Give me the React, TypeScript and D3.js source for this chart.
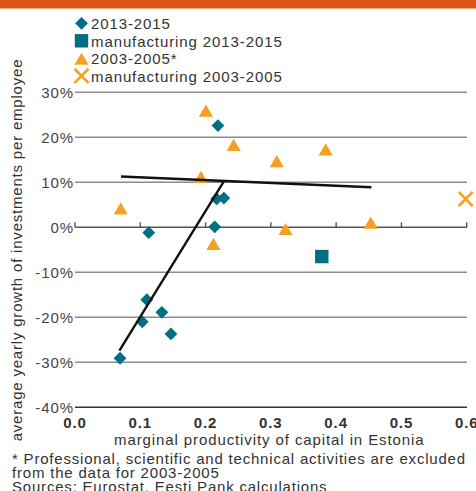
import React from 'react';
import * as d3 from 'd3';

// 2013-2015, by sector
const recentX = [0.219, 0.217, 0.228, 0.214, 0.113, 0.11, 0.103, 0.133, 0.147, 0.069];
const recentY = [22.6, 6.3, 6.5, 0.1, -1.2, -16.1, -21.0, -18.9, -23.7, -29.1];
// manufacturing 2013-2015
const mfgRecentX = [0.378];
const mfgRecentY = [-6.5];
// 2003-2005, by sector
const earlyX = [0.2005, 0.243, 0.193, 0.07, 0.212, 0.309, 0.384, 0.3225, 0.453];
const earlyY = [25.8, 18.2, 11.1, 4.1, -3.8, 14.6, 17.2, -0.5, 0.9];
// manufacturing 2003-2005
const mfgEarlyX = [0.5985];
const mfgEarlyY = [6.3];
// trend lines
const earlyTrendX = [0.0704, 0.454];
const earlyTrendY = [11.3, 8.9];
const recentTrendX = [0.068, 0.228];
const recentTrendY = [-27.4, 10.2];

const xTicks = [0, 0.1, 0.2, 0.3, 0.4, 0.5, 0.6];
const yTicks = [30, 20, 10, 0, -10, -20, -30, -40];
const legendLabels = ['2013-2015', 'manufacturing 2013-2015', '2003-2005*', 'manufacturing 2003-2005'];
const footnotes = [
  '* Professional, scientific and technical activities are excluded',
  'from the data for 2003-2005',
  'Sources: Eurostat, Eesti Pank calculations',
];

const TEAL = '#006f86';
const ORANGE = '#f5a01e';
const FONT = '"Liberation Sans", Arial, Helvetica, sans-serif';

export default function App() {
  const width = 476;
  const height = 491;

  const x = d3.scaleLinear().domain([0, 0.6]).range([75, 466.7]);
  const y = d3.scaleLinear().domain([-40, 30]).range([407.3, 92.3]);

  const diamond = d3.symbol().type(d3.symbolDiamond2).size(104)();
  const square = d3.symbol().type(d3.symbolSquare).size(180)();
  const triangle = d3.symbol().type(d3.symbolTriangle).size(86)();
  const cross = d3.symbol().type(d3.symbolX).size(130)();

  const line = d3.line<number>();
  const earlyTrend = line(earlyTrendX.map((v, i) => [x(v), y(earlyTrendY[i])] as any));
  const recentTrend = line(recentTrendX.map((v, i) => [x(v), y(recentTrendY[i])] as any));

  const legendMarks = [
    <path d={diamond} fill={TEAL} />,
    <path d={square} fill={TEAL} />,
    <path d={triangle} fill={ORANGE} />,
    <path d={cross} fill="none" stroke={ORANGE} strokeWidth={2.6} />,
  ];

  return (
    <svg
      width={width}
      height={height}
      style={{ position: 'absolute', left: 0, top: 0, fontFamily: FONT }}
    >
      <rect x={0} y={0} width={width} height={8.5} fill="#dd5419" />

      {/* legend */}
      {legendLabels.map((lab, i) => (
        <g key={lab} transform={`translate(0,${i * 17.5})`}>
          <g transform={`translate(81.5,${i === 2 ? 25.8 : 23.3})`}>{legendMarks[i]}</g>
          <text x={91} y={29.3} fontSize={15} letterSpacing={0.9} fill="#333">{lab}</text>
        </g>
      ))}

      {/* grid */}
      {yTicks.map((t) => (
        <g key={t}>
          <line
            x1={75}
            x2={467}
            y1={y(t)}
            y2={y(t)}
            stroke={t === 0 ? '#555' : t === -40 ? '#333' : '#8c8c8c'}
            strokeWidth={1.4}
          />
          <text x={74} y={y(t) + 5.5} textAnchor="end" fontSize={15} letterSpacing={0.9} fill="#444">
            {t}%
          </text>
        </g>
      ))}
      {xTicks.map((t) => (
        <g key={t}>
          <line x1={x(t)} x2={x(t)} y1={y(0)} y2={y(0) - 5} stroke="#555" strokeWidth={1.4} />
          <text x={x(t)} y={428} textAnchor="middle" fontSize={15} fontWeight="bold" letterSpacing={0.9} fill="#333">
            {t.toFixed(1)}
          </text>
        </g>
      ))}

      {/* axis titles */}
      <text x={114} y={445} fontSize={15} letterSpacing={0.9} fill="#333">
        marginal productivity of capital in Estonia
      </text>
      <text
        transform="translate(22,250) rotate(-90)"
        textAnchor="middle"
        fontSize={15}
        letterSpacing={0.8}
        fill="#333"
      >
        average yearly growth of investments per employee
      </text>

      {/* 2003-2005 */}
      {earlyX.map((v, i) => (
        <path key={'e' + i} d={triangle} fill={ORANGE} transform={`translate(${x(v)},${y(earlyY[i]) + 1.5})`} />
      ))}
      {mfgEarlyX.map((v, i) => (
        <path key={'me' + i} d={cross} fill="none" stroke={ORANGE} strokeWidth={2.6} transform={`translate(${x(v)},${y(mfgEarlyY[i])})`} />
      ))}

      {/* 2013-2015 */}
      {recentX.map((v, i) => (
        <path key={'r' + i} d={diamond} fill={TEAL} transform={`translate(${x(v)},${y(recentY[i])})`} />
      ))}
      {mfgRecentX.map((v, i) => (
        <path key={'mr' + i} d={square} fill={TEAL} transform={`translate(${x(v)},${y(mfgRecentY[i])})`} />
      ))}

      {/* trend lines */}
      <path d={earlyTrend || ''} fill="none" stroke="#111" strokeWidth={2.4} />
      <path d={recentTrend || ''} fill="none" stroke="#111" strokeWidth={2.4} />

      {/* notes */}
      {footnotes.map((f, i) => (
        <text key={i} x={12} y={464 + i * 13.8} fontSize={15} letterSpacing={0.8} fill="#333">
          {f}
        </text>
      ))}
    </svg>
  );
}
